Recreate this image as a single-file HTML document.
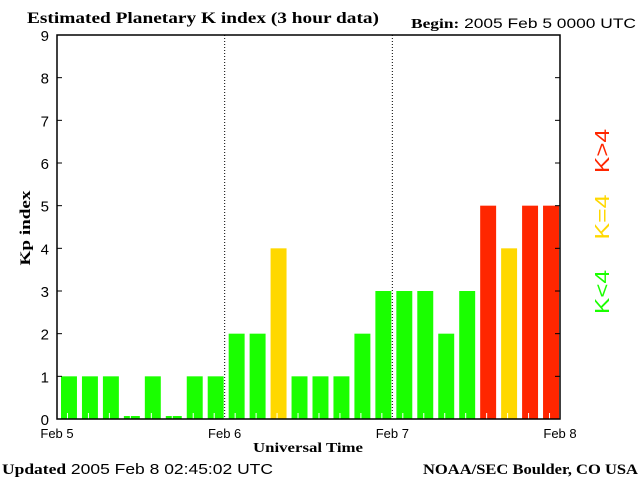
<!DOCTYPE html>
<html><head><meta charset="utf-8"><style>
body{margin:0;background:#fff;width:640px;height:480px;overflow:hidden}
svg text{font-family:"Liberation Sans",sans-serif}
.serif{font-family:"Liberation Serif",serif;font-weight:bold}
</style></head><body>
<svg width="640" height="480">
<text class="serif" x="27" y="23" font-size="16" textLength="352" lengthAdjust="spacingAndGlyphs">Estimated Planetary K index (3 hour data)</text>
<text x="411" y="28" font-size="14" textLength="225" lengthAdjust="spacingAndGlyphs"><tspan class="serif">Begin:</tspan> 2005 Feb 5 0000 UTC</text>
<g id="plot"></g>
<text class="serif" x="30" y="228" font-size="15" textLength="75" lengthAdjust="spacingAndGlyphs" transform="rotate(-90 30 228)" text-anchor="middle">Kp index</text>
<text class="serif" x="308" y="452" font-size="14" textLength="110" lengthAdjust="spacingAndGlyphs" text-anchor="middle">Universal Time</text>
<text x="2" y="474" font-size="15" textLength="271" lengthAdjust="spacingAndGlyphs"><tspan class="serif">Updated</tspan> 2005 Feb  8 02:45:02 UTC</text>
<text class="serif" x="423" y="474" font-size="15" textLength="215" lengthAdjust="spacingAndGlyphs">NOAA/SEC Boulder, CO USA</text>
<text x="609" y="292" font-size="20" fill="#1aff00" textLength="44" lengthAdjust="spacingAndGlyphs" transform="rotate(-90 609 292)" text-anchor="middle">K&lt;4</text>
<text x="609" y="217" font-size="20" fill="#ffd800" textLength="45" lengthAdjust="spacingAndGlyphs" transform="rotate(-90 609 217)" text-anchor="middle">K=4</text>
<text x="609" y="151" font-size="20" fill="#ff2600" textLength="44" lengthAdjust="spacingAndGlyphs" transform="rotate(-90 609 151)" text-anchor="middle">K&gt;4</text>
</svg>
<script>
const kpValues=[1,1,1,0,1,0,1,1,2,2,4,1,1,1,2,3,3,3,2,3,5,4,5,5];
const dayLabels=["Feb 5","Feb 6","Feb 7","Feb 8"];
const yTicks=[0,1,2,3,4,5,6,7,8,9];
const NS="http://www.w3.org/2000/svg";
const g=document.getElementById('plot');
const X0=57,X1=560,Y0=419,Y1=35;
const xs=i=>X0+(X1-X0)*i/kpValues.length;
const ys=v=>Y0-(Y0-Y1)*v/9;
function mk(t,a){const e=document.createElementNS(NS,t);for(const k in a)e.setAttribute(k,a[k]);g.appendChild(e);return e;}
kpValues.forEach((v,i)=>{
 const c=v<4?'#1aff00':(v==4?'#ffd800':'#ff2600');
 const h=v==0?3:Y0-ys(v);
 const slot=xs(1)-xs(0);
 const r=mk('rect',{x:xs(i)+4,y:Y0-h,width:slot-5,height:h,fill:c});
 
 
 const t=mk('line',{x1:xs(i)+slot/2,x2:xs(i)+slot/2,y1:Y0-6,y2:Y0,stroke:'#fff','stroke-width':1});
 
 
});
for(let d=1;d<3;d++){const x=X0+(X1-X0)*d/3;const l=mk('line',{x1:x,x2:x,y1:Y1,y2:Y0,stroke:'#000','stroke-dasharray':'1,2'});
 
 }
const ax=mk('rect',{x:X0,y:Y1,width:X1-X0,height:Y0-Y1,fill:'none',stroke:'#000','stroke-width':1.5});


yTicks.forEach(v=>{
 const y=ys(v);
 mk('line',{x1:X0,x2:X0+5,y1:y,y2:y,stroke:'#000'});
 mk('line',{x1:X1-5,x2:X1,y1:y,y2:y,stroke:'#000'});
 const t=mk('text',{x:49,y:y+6,'font-size':15,'text-anchor':'end'});t.textContent=v;
 
 
});
dayLabels.forEach((s,d)=>{
 const t=mk('text',{x:X0+(X1-X0)*d/3,y:438,'font-size':13,'text-anchor':'middle'});t.textContent=s;
 
 
});
</script>
</body></html>
